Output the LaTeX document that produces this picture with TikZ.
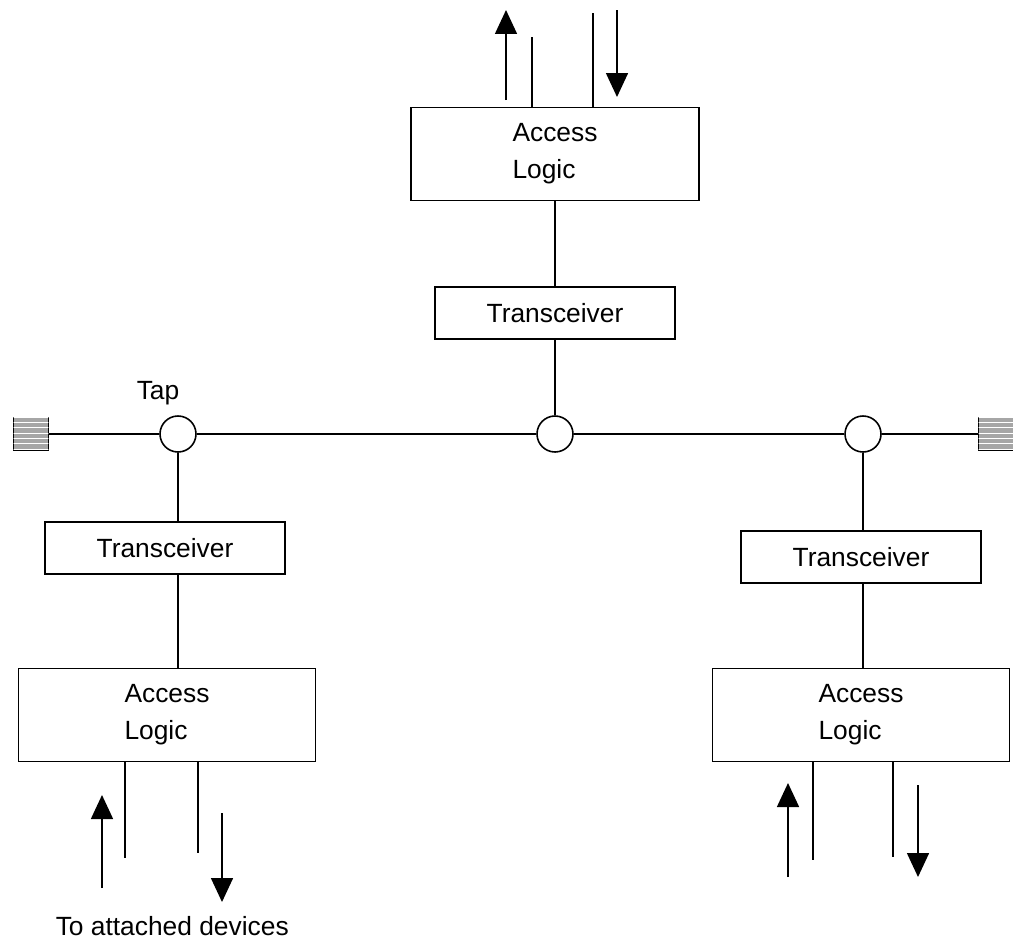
\documentclass[tikz,border=0pt]{standalone}
\usepackage{fontspec}
\setmainfont{Liberation Sans}
\usetikzlibrary{arrows.meta,patterns}
\begin{document}
\begin{tikzpicture}[x=0.02cm, y=-0.02cm, line width=0.9pt,
  font=\fontsize{15}{21}\selectfont,
  box/.style={draw, inner sep=0pt, align=left},
  acc/.style={box, minimum width=5.94cm, minimum height=1.86cm},
  trx/.style={box, minimum width=4.8cm, minimum height=1.04cm},
  tap/.style={draw, circle, minimum size=0.72cm, inner sep=0pt},
  term/.style={draw, fill=black!35, postaction={pattern=horizontal lines, pattern color=white},
    minimum width=0.7cm, minimum height=0.66cm, inner sep=0pt},
  io/.style={-{Triangle[width=0.44cm,length=0.48cm]}}]
\useasboundingbox (0,0) rectangle (1013,940);

%bus with terminators
\node[term] (end1) at (31,434) {};
\node[term] (end2) at (996,434) {};
\node[tap] (tap1) at (178,434) {};
\node[tap] (tap0) at (555,434) {};
\node[tap] (tap2) at (863,434) {};
\node (taplbl) at (158,393) {Tap};
\draw (end1) -- (tap1) -- (tap0) -- (tap2) -- (end2);

%top station
\node[acc, minimum width=5.76cm] (acc0) at (555,154) {Access\\Logic};
\node[trx] (trx0) at (555,313) {Transceiver};
\draw (acc0) -- (trx0);
\draw (trx0) -- (tap0);

%left station
\node[trx] (trx1) at (165,548) {Transceiver};
\node[acc] (acc1) at (167,715) {Access\\Logic};
\draw (tap1) -- (tap1 |- trx1.north);
\draw (trx1.south -| tap1) -- (acc1.north -| tap1);

%right station
\node[trx] (trx2) at (861,557) {Transceiver};
\node[acc] (acc2) at (861,715) {Access\\Logic};
\draw (tap2) -- (tap2 |- trx2.north);
\draw (trx2.south -| tap2) -- (acc2.north -| tap2);

%lines to attached devices
\coordinate (u0a) at (506,100); \coordinate (u0b) at (506,10);
\coordinate (l0a) at (532,37);  \coordinate (l0b) at (593,13);
\coordinate (d0a) at (617,10);  \coordinate (d0b) at (617,97);
\draw[io] (u0a) -- (u0b);
\draw (l0a) -- (l0a |- acc0.north);
\draw (l0b) -- (l0b |- acc0.north);
\draw[io] (d0a) -- (d0b);

\coordinate (u1a) at (102,888); \coordinate (u1b) at (102,795);
\coordinate (l1a) at (125,858); \coordinate (l1b) at (198,853);
\coordinate (d1a) at (222,813); \coordinate (d1b) at (222,902);
\draw[io] (u1a) -- (u1b);
\draw (acc1.south -| l1a) -- (l1a);
\draw (acc1.south -| l1b) -- (l1b);
\draw[io] (d1a) -- (d1b);

\coordinate (u2a) at (788,877); \coordinate (u2b) at (788,783);
\coordinate (l2a) at (813,860); \coordinate (l2b) at (893,857);
\coordinate (d2a) at (918,785); \coordinate (d2b) at (918,877);
\draw[io] (u2a) -- (u2b);
\draw (acc2.south -| l2a) -- (l2a);
\draw (acc2.south -| l2b) -- (l2b);
\draw[io] (d2a) -- (d2b);

\node[anchor=west, inner sep=0pt] (devlbl) at (55,926) {To attached devices};
\end{tikzpicture}
\end{document}
